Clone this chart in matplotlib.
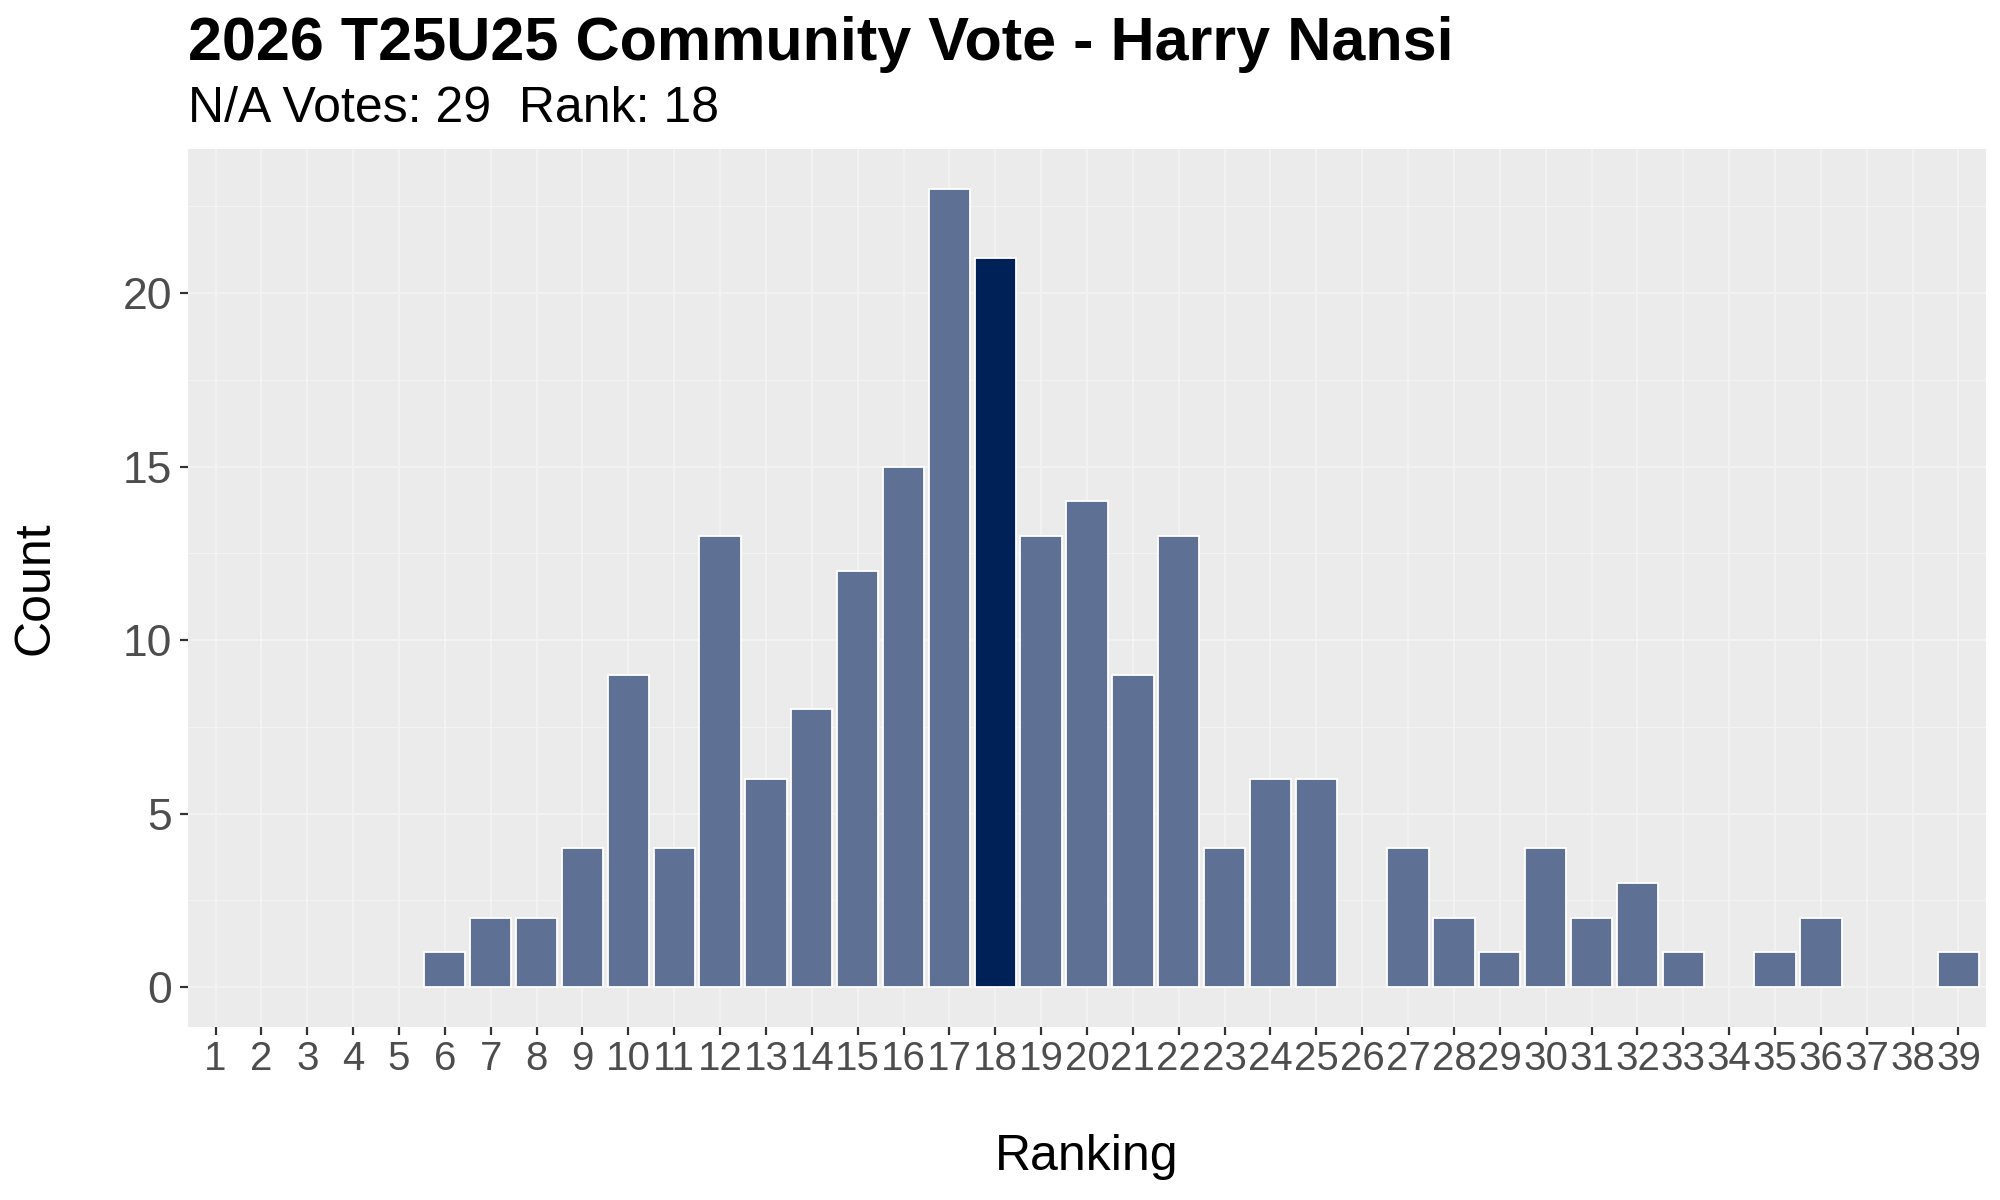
import numpy as np
import matplotlib.pyplot as plt
from matplotlib.ticker import MultipleLocator

plt.rcParams['font.family'] = ['Liberation Sans', 'DejaVu Sans']

# ---- data ----
rankings = list(range(1, 40))
counts = [0, 0, 0, 0, 0, 1, 2, 2, 4, 9, 4, 13, 6, 8, 12, 15, 23, 21, 13, 14,
          9, 13, 4, 6, 6, 0, 4, 2, 1, 4, 2, 3, 1, 0, 1, 2, 0, 0, 1]
player_rank = 18
na_votes = 29
player = 'Harry Nansi'

# ---- colours ----
panel_bg = '#EBEBEB'
grid_col = '#F3F3F3'
bar_col = '#5E7093'
hi_col = '#002157'

fig = plt.figure(figsize=(20, 12), dpi=100)
W, H = 2000, 1200
ax = fig.add_axes([188 / W, 1 - 1027 / H, (1986 - 188) / W, (1027 - 149) / H])
ax.set_facecolor(panel_bg)

# only ranks that got votes get a bar
x = np.array([r for r, c in zip(rankings, counts) if c > 0])
y = np.array([c for c in counts if c > 0])
colors = [hi_col if r == player_rank else bar_col for r in x]
ax.bar(x, y, width=0.9, color=colors, edgecolor='white', linewidth=1.3, zorder=3)

ymax = max(counts)
ax.set_xlim(0.4, 39.6)
ax.set_ylim(-0.05 * ymax, ymax * 1.05)

ax.set_xticks(rankings)
ax.set_xticklabels([str(r) for r in rankings])
ax.yaxis.set_major_locator(MultipleLocator(5))
ax.yaxis.set_minor_locator(MultipleLocator(2.5))

ax.grid(which='major', axis='both', color=grid_col, linewidth=1.4, zorder=0)
ax.grid(which='minor', axis='y', color=grid_col, linewidth=0.8, zorder=0)
ax.set_axisbelow(True)
for s in ax.spines.values():
    s.set_visible(False)

ax.tick_params(axis='both', which='major', length=5.5, width=1.6, color='#333333',
               labelcolor='#4D4D4D')
ax.tick_params(axis='x', labelsize=29, pad=4)
ax.tick_params(axis='y', labelsize=32, pad=6)
ax.tick_params(which='minor', length=0)

ax.set_xlabel('Ranking', fontsize=36, labelpad=40)
ax.set_ylabel('Count', fontsize=36, labelpad=46)

fig.text(188 / W, 1 - 60 / H, f'2026 T25U25 Community Vote - {player}',
         fontsize=44, fontweight='bold', ha='left', va='baseline')
fig.text(188 / W, 1 - 122 / H, f'N/A Votes: {na_votes}  Rank: {player_rank}',
         fontsize=36, ha='left', va='baseline')

fig.savefig('out.png', dpi=100)
